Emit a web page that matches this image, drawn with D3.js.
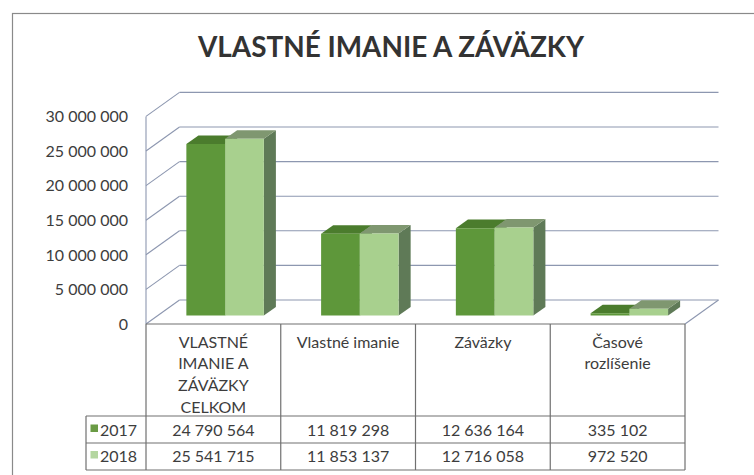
<!DOCTYPE html>
<html>
<head>
<meta charset="utf-8">
<script src="https://cdn.jsdelivr.net/npm/d3@7"></script>
<style>
html,body{margin:0;padding:0;background:#fff;}
svg{display:block;}
text{font-family:Lato,"Open Sans",sans-serif;fill:#3d3d3d;}
</style>
</head>
<body>
<svg id="chart" width="754" height="475"></svg>
<script>
// ---- data ----
const title = "VLASTNÉ IMANIE A ZÁVÄZKY";
const categories = ["VLASTNÉ IMANIE A ZÁVÄZKY CELKOM", "Vlastné imanie", "Záväzky", "Časové rozlíšenie"];
const categoryLines = [["VLASTNÉ", "IMANIE A", "ZÁVÄZKY", "CELKOM"], ["Vlastné imanie"], ["Záväzky"], ["Časové", "rozlíšenie"]];
const seriesNames = ["2017", "2018"];
const values2017 = [24790564, 11819298, 12636164, 335102];
const values2018 = [25541715, 11853137, 12716058, 972520];
const yTicks = [0, 5000000, 10000000, 15000000, 20000000, 25000000, 30000000];

// ---- styles ----
const faceColors = [
  {front: "#5e973a", top: "#4b7c2d", side: "#4f6e45"},
  {front: "#a8d08e", top: "#7f9770", side: "#5f7a57"}
];
const legendColors = ["#6a9b45", "#b4d6a0"];
const gridColor = "#8d97b0";
const tableColor = "#707070";

const svg = d3.select("#chart");
const fmt = v => d3.format(",")(v).replace(/,/g, " ");

// frame
svg.append("rect").attr("x", 12.5).attr("y", 13.5).attr("width", 760).attr("height", 480)
  .attr("fill", "none").attr("stroke", "#8a8a8a").attr("stroke-width", 1.2);

// title
svg.append("text").attr("x", 391).attr("y", 57).attr("text-anchor", "middle")
  .style("font-weight", "bold").style("font-size", "29px").style("fill", "#333")
  .attr("textLength", 386).attr("lengthAdjust", "spacingAndGlyphs")
  .text(title);

// ---- 3D geometry ----
const x0 = 146, x1 = 685;
const DX = 33.5, DY = 24; // depth offset front->back
const x = d3.scaleBand().domain(categories).range([x0, x1]).paddingInner(0).paddingOuter(0);
const y = d3.scaleLinear().domain([0, 30000000]).range([324, 116.4]);
const proj = (px, v, z) => [px + z * DX, y(v) - z * DY];

const g = svg.append("g");

// back wall gridlines + left side wall lines
yTicks.forEach(t => {
  const a = proj(x0, t, 1), b = proj(x1, t, 1), f = proj(x0, t, 0);
  g.append("line").attr("x1", a[0]).attr("y1", a[1]).attr("x2", b[0]).attr("y2", b[1])
    .attr("stroke", gridColor).attr("stroke-width", 1.1);
  g.append("line").attr("x1", f[0]).attr("y1", f[1]).attr("x2", a[0]).attr("y2", a[1])
    .attr("stroke", gridColor).attr("stroke-width", 1.1);
});
// left front vertical edge
g.append("line").attr("x1", x0).attr("y1", y(30000000)).attr("x2", x0).attr("y2", y(0))
  .attr("stroke", gridColor).attr("stroke-width", 1.1);
// floor right edge
{
  const f = proj(x1, 0, 0), b = proj(x1, 0, 1);
  g.append("line").attr("x1", f[0]).attr("y1", f[1]).attr("x2", b[0]).attr("y2", b[1])
    .attr("stroke", gridColor).attr("stroke-width", 1.1);
}

// y axis labels
svg.append("g").selectAll("text").data(yTicks).join("text")
  .attr("x", 128).attr("y", d => y(d)).attr("dy", "0.36em").attr("text-anchor", "end")
  .style("font-size", "16px").text(d => fmt(d));

// bars
const zf = 0.35, zb = 0.71;
const groupFrac = 0.575;
const series = [values2017, values2018];
const bw = x.bandwidth() * groupFrac / 2;
const pts = arr => arr.map(p => p.join(",")).join(" ");
categories.forEach((c, i) => {
  const gx = x(c) + (x.bandwidth() - 2 * bw) / 2;
  series.forEach((vals, s) => {
    const v = vals[i];
    const L = gx + s * bw, R = L + bw;
    const col = faceColors[s];
    // right side face
    g.append("polygon").attr("points", pts([proj(R, 0, zf), proj(R, v, zf), proj(R, v, zb), proj(R, 0, zb)]))
      .attr("fill", col.side);
    // top face
    g.append("polygon").attr("points", pts([proj(L, v, zf), proj(R, v, zf), proj(R, v, zb), proj(L, v, zb)]))
      .attr("fill", col.top);
    // front face
    g.append("polygon").attr("points", pts([proj(L, 0, zf), proj(R, 0, zf), proj(R, v, zf), proj(L, v, zf)]))
      .attr("fill", col.front);
  });
});

// ---- data table ----
const t = svg.append("g");
const tTop = 324, hBottom = 416, r1 = 443, tBottom = 470, legLeft = 86;
const line = (xa, ya, xb, yb) => t.append("line").attr("x1", xa).attr("y1", ya).attr("x2", xb).attr("y2", yb)
  .attr("stroke", tableColor).attr("stroke-width", 1.2);
line(x0, tTop, x1, tTop);
line(legLeft, hBottom, x1, hBottom);
line(legLeft, r1, x1, r1);
line(legLeft, tBottom, x1, tBottom);
line(legLeft, hBottom, legLeft, tBottom);
categories.forEach(c => line(x(c), tTop, x(c), tBottom));
line(x1, tTop, x1, tBottom);

// header labels
categories.forEach((c, i) => {
  const cx = x(c) + x.bandwidth() / 2;
  categoryLines[i].forEach((ln, k) => {
    t.append("text").attr("x", cx).attr("y", 347.5 + k * 21.7).attr("text-anchor", "middle")
      .style("font-size", "16px").text(ln);
  });
});

// rows
const rowBase = [435.5, 462];
series.forEach((vals, s) => {
  t.append("rect").attr("x", 90.5).attr("y", rowBase[s] - 11).attr("width", 7.5).attr("height", 7.5)
    .attr("fill", legendColors[s]);
  t.append("text").attr("x", 100).attr("y", rowBase[s]).style("font-size", "16px").text(seriesNames[s]);
  categories.forEach((c, i) => {
    t.append("text").attr("x", x(c) + x.bandwidth() / 2).attr("y", rowBase[s]).attr("text-anchor", "middle")
      .style("font-size", "16px").text(fmt(vals[i]));
  });
});
</script>
</body>
</html>
